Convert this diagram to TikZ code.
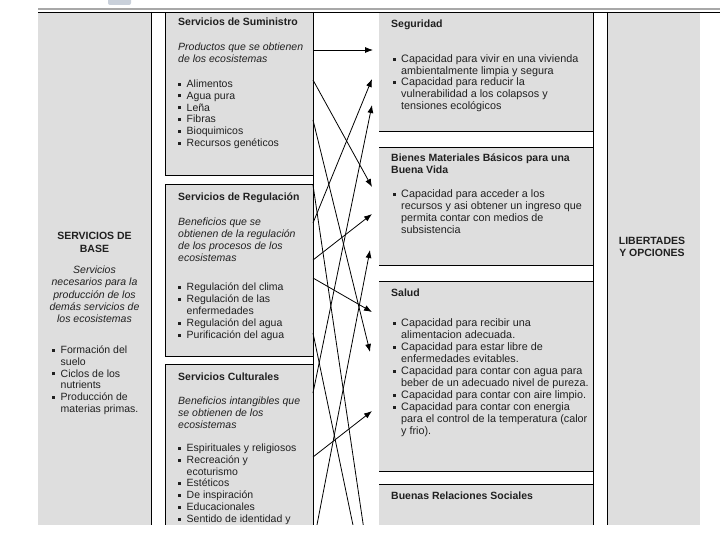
\documentclass[tikz,border=0pt]{standalone}
\usepackage{fontspec}
\setmainfont{Liberation Sans}
\usetikzlibrary{arrows.meta}
\definecolor{boxgray}{HTML}{DEDEDE}
\definecolor{txtc}{HTML}{202020}
\definecolor{shadowgray}{HTML}{A8A8A8}
\definecolor{blobc}{HTML}{C9D0DA}
\newcommand\bul{\makebox[8.5pt][l]{\rule[1.8pt]{3pt}{3pt}}}
\newcommand\cnt{\hspace*{8.5pt}}
\newcommand\mylines[6][]{\foreach \t [count=\i] in {#6}{\node[txt,#1] (#2\i) at (#3,{#4+(\i-1)*#5}) {\t};}}
\begin{document}
\begin{tikzpicture}[x=1pt,y=-1pt,
  txt/.style={inner sep=0pt,anchor=base west,text=txtc,font=\fontsize{10.5}{12}\selectfont},
  rtxt/.style={font=\fontsize{10.8}{12}\selectfont},
  ttl/.style={font=\bfseries\fontsize{10.5}{12}\selectfont},
  ital/.style={font=\itshape\fontsize{10.5}{12}\selectfont},
  ctr/.style={anchor=base},
  mbox/.style={fill=boxgray,draw=black,line width=0.8pt},
  edge/.style={draw=black,line width=0.8pt},
  arr/.style={draw=black,line width=0.8pt,-{Latex[length=8pt,width=6pt]}},
  ln/.style={draw=black,line width=0.8pt}]
\useasboundingbox (0,0) rectangle (720,540);
\fill[white] (0,0) rectangle (720,540);
\fill[blobc,rounded corners=2pt] (108,-4) rectangle (131,5);
\draw[shadowgray,line width=2pt] (38,9.5) -- (720,9.5);
\begin{scope}
\clip (0,0) rectangle (720,524.5);
% columns
\fill[boxgray] (38,12) rectangle (151,540);
\fill[boxgray] (607,12) rectangle (700,540);
\draw[mbox] (165,12) rectangle (313,175);
\draw[mbox] (165,184) rectangle (313,356);
\draw[mbox] (165,364) rectangle (313,560);
\fill[boxgray] (379,12) rectangle (593,131);
\fill[boxgray] (379,147) rectangle (593,265);
\fill[boxgray] (379,281) rectangle (593,471);
\fill[boxgray] (379,484) rectangle (593,560);
\draw[edge] (379,131) -- (593,131);
\draw[edge] (379,147) -- (593,147);
\draw[edge] (379,265) -- (593,265);
\draw[edge] (379,281) -- (593,281);
\draw[edge] (379,471) -- (593,471);
\draw[edge] (379,484) -- (593,484);
\draw[edge] (151,12) -- (151,540);
\draw[edge] (313,12) -- (313,540);
\draw[edge] (593,12) -- (593,540);
\draw[edge] (607,12) -- (607,540);
\draw[edge] (38,12) -- (720,12);
% arrow end points
\coordinate (s1) at (313,50);  \coordinate (t1) at (373,50);
\coordinate (s2) at (313,80);  \coordinate (t2) at (372,187);
\coordinate (s3) at (313,120); \coordinate (t3) at (370,352);
\coordinate (s4) at (313,223); \coordinate (t4) at (372,79);
\coordinate (s5) at (313,260); \coordinate (t5) at (372,214);
\coordinate (s6) at (313,278); \coordinate (t6) at (372,312);
\coordinate (s7) at (313,393); \coordinate (t7) at (372,105);
\coordinate (s8) at (313,457); \coordinate (t8) at (372,411);
\coordinate (s9) at (316,530); \coordinate (t9) at (370,250);
\coordinate (s10) at (313,185); \coordinate (t10) at (364,530);
\coordinate (s11) at (313,333); \coordinate (t11) at (354,530);
\foreach \k in {1,...,9} {\draw[arr] (s\k) -- (t\k);}
\draw[ln] (s10) -- (t10);
\draw[ln] (s11) -- (t11);
% left column
\mylines[ttl,ctr]{la}{94.5}{240}{12}{SERVICIOS DE,BASE}
\mylines[ital,ctr]{lb}{94.5}{273.5}{12.3}{Servicios,necesarios para la,producción de los,demás servicios de,los ecosistemas}
\mylines{lc}{52}{353.5}{11.8}{\bul Formación del,\cnt suelo,\bul Ciclos de los,\cnt nutrients,\bul Producción de,\cnt materias primas.}
% middle column
\mylines[ttl]{sa}{178}{26}{12}{Servicios de Suministro}
\mylines[ital]{sb}{178}{51}{12}{Productos que se obtienen,de los ecosistemas}
\mylines{sc}{178}{87.5}{11.8}{\bul Alimentos,\bul Agua pura,\bul Leña,\bul Fibras,\bul Bioquimicos,\bul Recursos genéticos}
\mylines[ttl]{ra}{178}{200.5}{12}{Servicios de Regulación}
\mylines[ital]{rb}{178}{225.5}{12}{Beneficios que se,obtienen de la regulación,de los procesos de los,ecosistemas}
\mylines{rc}{178}{290.5}{12}{\bul Regulación del clima,\bul Regulación de las,\cnt enfermedades,\bul Regulación del agua,\bul Purificación del agua}
\mylines[ttl]{ca}{178}{380.5}{12}{Servicios Culturales}
\mylines[ital]{cb}{178}{404.5}{12}{Beneficios intangibles que,se obtienen de los,ecosistemas}
\mylines{cc}{178}{451.5}{11.8}{\bul Espirituales y religiosos,\bul Recreación y,\cnt ecoturismo,\bul Estéticos,\bul De inspiración,\bul Educacionales,\bul Sentido de identidad y}
% right column
\mylines[ttl]{ga}{391}{27.5}{12}{Seguridad}
\mylines[rtxt]{gb}{392.5}{62.5}{11.75}{\bul Capacidad para vivir en una vivienda,\cnt ambientalmente limpia y segura,\bul Capacidad para reducir la,\cnt vulnerabilidad a los colapsos y,\cnt tensiones ecológicos}
\mylines[ttl]{ba}{391}{161.5}{12}{Bienes Materiales Básicos para una,Buena Vida}
\mylines[rtxt]{bb}{392.5}{197.5}{12}{\bul Capacidad para acceder a los,\cnt recursos y asi obtener un ingreso que,\cnt permita contar con medios de,\cnt subsistencia}
\mylines[ttl]{ha}{391}{296.5}{12}{Salud}
\mylines[rtxt]{hb}{392.5}{326.5}{12}{\bul Capacidad para recibir una,\cnt alimentacion adecuada.,\bul Capacidad para estar libre de,\cnt enfermedades  evitables.,\bul Capacidad para contar con agua para,\cnt beber de un adecuado nivel de pureza.,\bul Capacidad para contar con aire limpio.,\bul Capacidad para contar con energia,\cnt para el control de la temperatura (calor,\cnt y frio).}
\mylines[ttl]{na}{391}{499.5}{12}{Buenas Relaciones Sociales}
\mylines[ttl,ctr]{fa}{652}{244.5}{12}{LIBERTADES,Y OPCIONES}
\end{scope}
\end{tikzpicture}
\end{document}
